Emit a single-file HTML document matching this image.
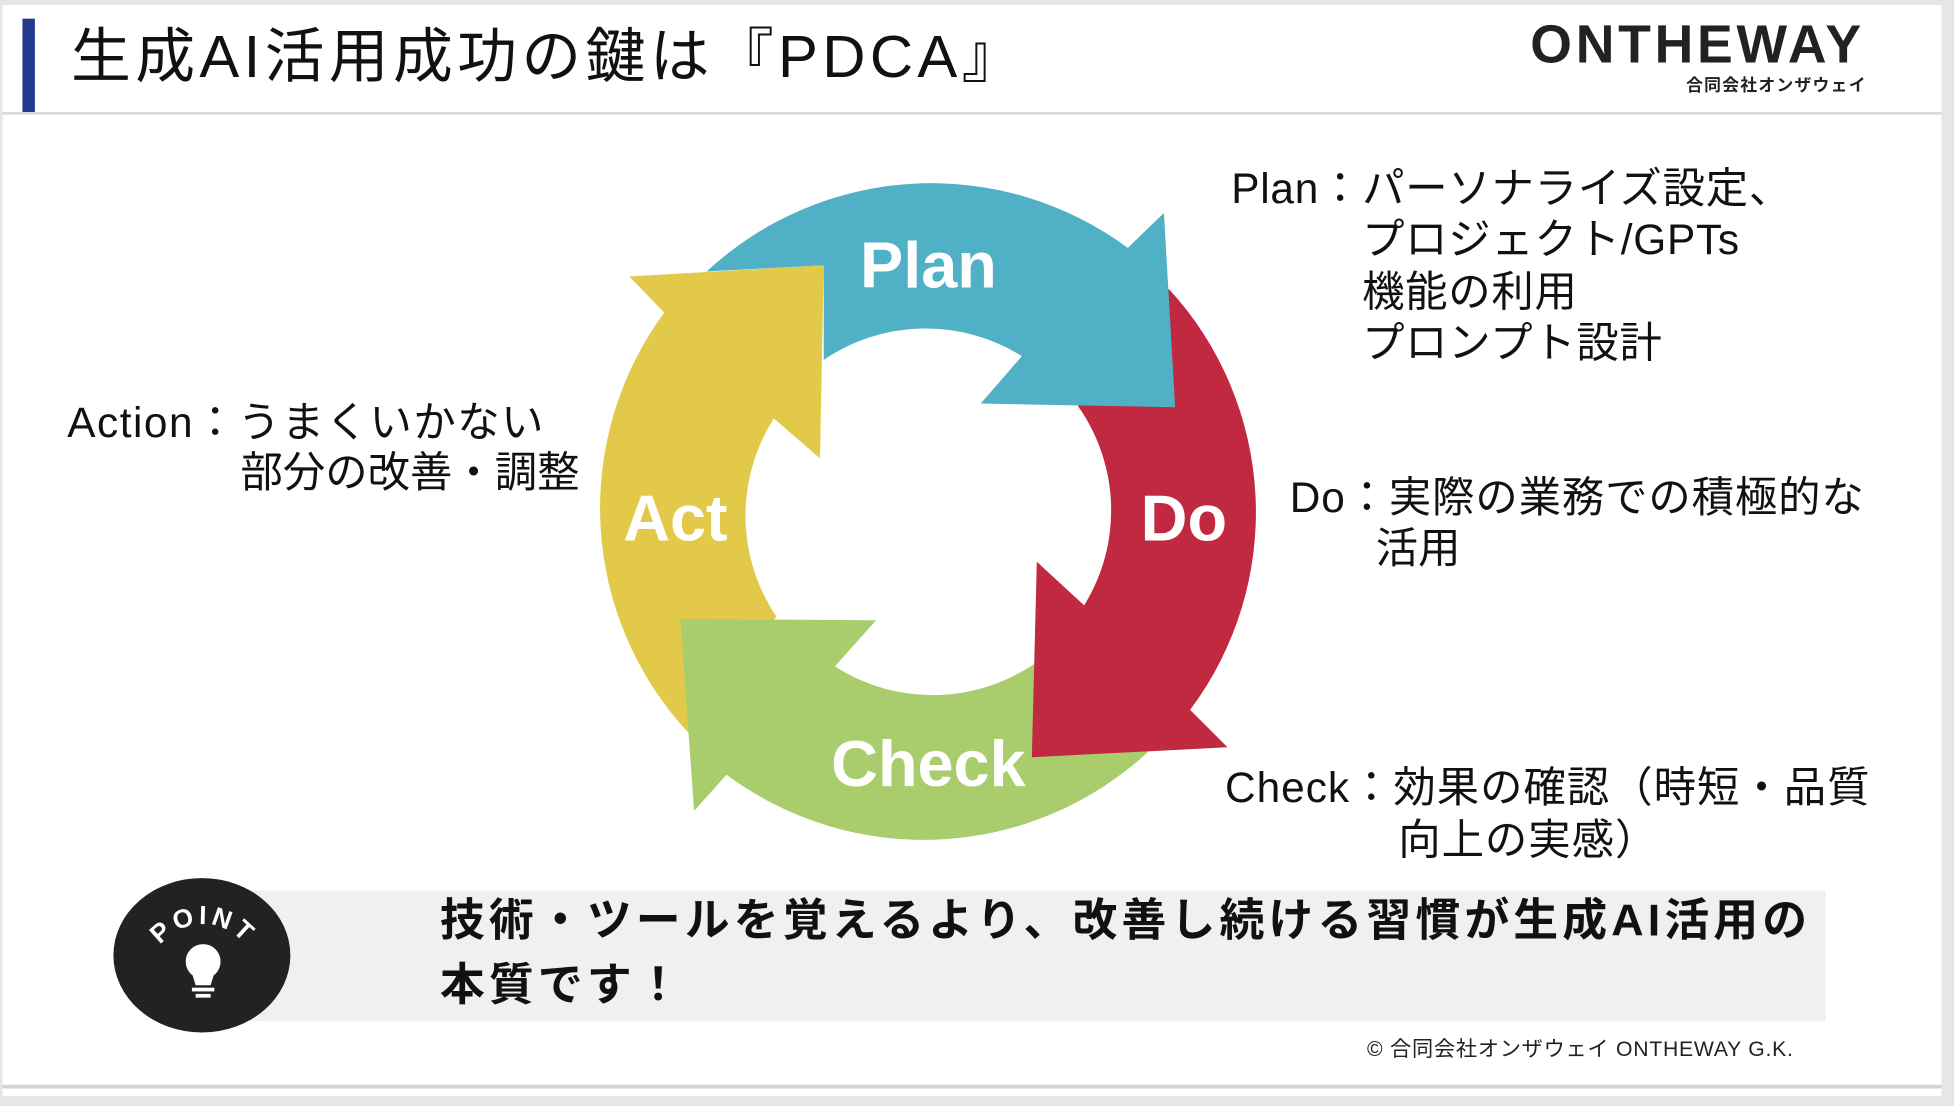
<!DOCTYPE html>
<html><head><meta charset="utf-8"><style>
html,body{margin:0;padding:0;}
body{width:1954px;height:1106px;overflow:hidden;background:#e6e6e8;position:relative;}
#s{position:absolute;left:0;top:0;width:1568px;height:888px;transform-origin:0 0;transform:scale(1.24617,1.24550);}
.card{position:absolute;left:2px;top:4px;width:1556px;height:867px;background:#fff;}
.t{position:absolute;white-space:nowrap;color:#111;font-family:"Liberation Sans","Noto Sans CJK JP",sans-serif;}
</style></head><body><div id="s">
<div class="card"></div>
<div style="position:absolute;left:2px;top:871px;width:1556px;height:3px;background:#d4d5dc"></div>
<div style="position:absolute;left:2px;top:874px;width:1556px;height:6px;background:#fff"></div>
<div style="position:absolute;left:18px;top:15px;width:10px;height:75px;background:#233a8c"></div>
<div style="position:absolute;left:2px;top:90px;width:1556px;height:2px;background:#d4d6dc"></div>
<div class="t" style="left:57px;top:18px;font-size:48px;line-height:58px;letter-spacing:3.5px">生成AI活用成功の鍵は『PDCA』</div>
<div class="t" style="left:1228px;top:12px;font-size:43px;line-height:48px;font-weight:bold;color:#222;letter-spacing:3px">ONTHEWAY</div>
<div class="t" style="left:1353px;top:60px;font-size:13.5px;line-height:18px;font-weight:bold;color:#222;letter-spacing:1px">合同会社オンザウェイ</div>

<svg style="position:absolute;left:0;top:0" width="1568" height="888" viewBox="0 0 1568 888">
<path fill="#e2c94a" d="M553,589 A265 265 0 0 1 533,251 L505,222 L661,213 L658,368 L621,336 A145 145 0 0 0 623,495 Z"/>
<path fill="#a9cd6d" d="M922,603 A265 265 0 0 1 583,622 L557,651 L546,497 L703,498 L670,535 A145 145 0 0 0 830,533 Z"/>
<path fill="#c0293f" d="M938,232 A265 265 0 0 1 955,570 L985,600 L828,608 L832,451 L870,486 A145 145 0 0 0 865,326 Z"/>
<path fill="#50b0c6" d="M567,218 A265 265 0 0 1 905,199 L934,171 L943,327 L787,324 L820,286 A145 145 0 0 0 661,289 L661,213 Z"/>
<g font-family="Liberation Sans, sans-serif" font-weight="bold" font-size="52" fill="#fff" text-anchor="middle">
<text x="745" y="231">Plan</text>
<text x="950" y="434">Do</text>
<text x="542" y="434">Act</text>
<text x="745" y="631">Check</text>
</g>
<rect x="195" y="715" width="1270" height="105" fill="#f0f0f0"/>
<ellipse cx="162" cy="767" rx="71" ry="62" fill="#222"/>
<defs><path id="arc" d="M120,785 A43 43 0 0 1 206,785"/></defs>
<text font-family="Liberation Sans, sans-serif" font-weight="bold" font-size="21" fill="#fff" letter-spacing="3" text-anchor="middle"><textPath href="#arc" startOffset="50%">POINT</textPath></text>
<circle cx="163" cy="772" r="14" fill="#fff"/>
<path d="M153,778 L173,778 L169,791 L157,791 Z" fill="#fff"/>
<rect x="154" y="793" width="18" height="3" fill="#fff"/>
<rect x="157" y="798" width="12" height="3" fill="#fff"/>
</svg>

<div class="t" style="left:988px;top:131px;font-size:34px;line-height:42px;letter-spacing:0.6px">Plan：パーソナライズ設定、</div>
<div class="t" style="left:1093px;top:172px;font-size:34px;line-height:42px;letter-spacing:0.6px">プロジェクト/GPTs</div>
<div class="t" style="left:1093px;top:214px;font-size:34px;line-height:42px;letter-spacing:0.6px">機能の利用</div>
<div class="t" style="left:1093px;top:255px;font-size:34px;line-height:42px;letter-spacing:0.6px">プロンプト設計</div>
<div class="t" style="left:1035px;top:379px;font-size:34px;line-height:42px;letter-spacing:0.7px">Do：実際の業務での積極的な</div>
<div class="t" style="left:1104px;top:420px;font-size:34px;line-height:42px;">活用</div>
<div class="t" style="left:983px;top:612px;font-size:34px;line-height:42px;letter-spacing:0.8px">Check：効果の確認（時短・品質</div>
<div class="t" style="left:1122px;top:654px;font-size:34px;line-height:42px;letter-spacing:0.8px">向上の実感）</div>
<div class="t" style="left:54px;top:319px;font-size:34px;line-height:42px;letter-spacing:1.2px">Action：うまくいかない</div>
<div class="t" style="left:193px;top:359px;font-size:34px;line-height:42px;">部分の改善・調整</div>
<div class="t" style="left:353px;top:716px;font-size:36px;line-height:46px;font-weight:bold;letter-spacing:3.3px">技術・ツールを覚えるより、改善し続ける習慣が生成AI活用の</div>
<div class="t" style="left:353px;top:768px;font-size:36px;line-height:46px;font-weight:bold;letter-spacing:3.3px">本質です！</div>
<div class="t" style="left:1097px;top:832px;font-size:17px;line-height:22px;color:#222;letter-spacing:0.6px">© 合同会社オンザウェイ ONTHEWAY G.K.</div>
</div></body></html>
